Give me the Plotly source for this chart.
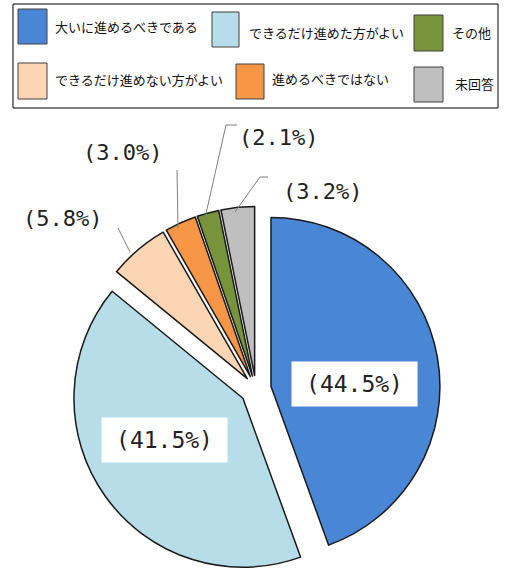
import plotly.graph_objects as go

# Survey answers (clockwise from 12 o'clock)
labels = [
    "大いに進めるべきである",
    "できるだけ進めた方がよい",
    "できるだけ進めない方がよい",
    "進めるべきではない",
    "その他",
    "未回答",
]
values = [44.5, 41.5, 5.8, 3.0, 2.1, 3.2]

colors = ["#4A86D6", "#B7DDE8", "#FCD5B5", "#F79646", "#77933C", "#BFBFBF"]
pulls = [0.09, 0.095, 0.08, 0.08, 0.08, 0.08]

W, H = 508, 574


def fx(x):
    return x / W


def fy(y):
    return 1 - y / H


def pct(v):
    return f"({v:.1f}%)"


fig = go.Figure()

fig.add_trace(go.Pie(
    labels=labels,
    values=values,
    sort=False,
    direction="clockwise",
    rotation=0,
    pull=pulls,
    marker=dict(colors=colors, line=dict(color="#1a1a1a", width=1.5)),
    textinfo="none",
    hoverinfo="label+percent",
    showlegend=False,
    domain=dict(x=[fx(256 - 195), fx(256 + 195)], y=[0, 370 / H]),
))

shapes = []
annotations = []

# Legend frame
shapes.append(dict(type="rect", xref="paper", yref="paper",
                   x0=fx(13), x1=fx(498), y0=fy(108), y1=fy(4),
                   line=dict(color="#000000", width=1), fillcolor="rgba(0,0,0,0)"))

# Legend layout: swatch box (x0, y0, x1, y1) and text anchor (x, y)
legend_pos = [
    ((18, 9, 47, 44), (53, 27)),
    ((212, 12, 239, 47), (247, 33)),
    ((18, 63, 47, 99), (53, 80)),
    ((236, 64, 264, 99), (270, 78)),
    ((414, 15, 443, 51), (450, 33)),
    ((414, 67, 443, 102), (453, 83)),
]

for lab, col, ((x0, y0, x1, y1), (tx, ty)) in zip(labels, colors, legend_pos):
    shapes.append(dict(type="rect", xref="paper", yref="paper",
                       x0=fx(x0), x1=fx(x1), y0=fy(y1), y1=fy(y0),
                       line=dict(color="#404040", width=1), fillcolor=col))
    annotations.append(dict(x=fx(tx), y=fy(ty), xref="paper", yref="paper",
                            text=lab, showarrow=False, xanchor="left", yanchor="middle",
                            font=dict(family="Noto Sans CJK JP", size=13, color="#111111")))

label_font = dict(family="DejaVu Sans Mono", size=22, color="#222222")

# Values shown inside the two large slices, on white boxes
inside_pos = {0: (354, 384), 1: (164, 440)}
for i, (cx, cy) in inside_pos.items():
    annotations.append(dict(x=fx(cx), y=fy(cy), xref="paper", yref="paper",
                            text=pct(values[i]), showarrow=False,
                            xanchor="center", yanchor="middle",
                            width=123, height=42, bgcolor="#FFFFFF",
                            font=dict(label_font, size=23)))

# Values for the small slices, with leader lines
outside_pos = {2: (62, 218), 3: (122, 153), 4: (278, 137), 5: (322, 191)}
for i, (cx, cy) in outside_pos.items():
    annotations.append(dict(x=fx(cx), y=fy(cy), xref="paper", yref="paper",
                            text=pct(values[i]), showarrow=False,
                            xanchor="center", yanchor="middle", font=label_font))

leaders = [
    [(118, 228), (130, 252)],
    [(177, 170), (178, 228)],
    [(237, 125), (226, 125), (205, 218)],
    [(268, 177), (260, 177), (235, 212)],
]
for pts in leaders:
    path = "M " + " L ".join(f"{fx(x)} {fy(y)}" for x, y in pts)
    shapes.append(dict(type="path", xref="paper", yref="paper", path=path,
                       line=dict(color="#7f7f7f", width=1)))

fig.update_layout(
    width=W, height=H,
    margin=dict(l=0, r=0, t=0, b=0),
    paper_bgcolor="#FFFFFF",
    plot_bgcolor="#FFFFFF",
    shapes=shapes,
    annotations=annotations,
)

fig.write_html("out.html")
